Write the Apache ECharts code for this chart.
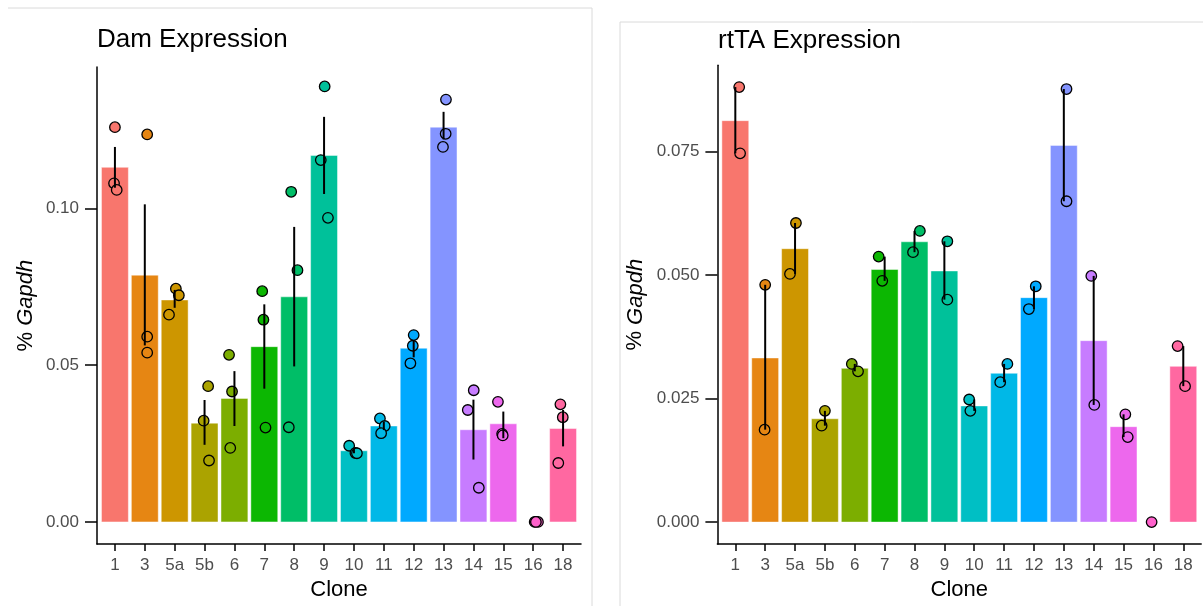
<!DOCTYPE html>
<html>
<head>
<meta charset="utf-8">
<script src="https://cdn.jsdelivr.net/npm/echarts@6/dist/echarts.min.js"></script>
<style>
html, body { margin: 0; padding: 0; background: #fff; }
#main { width: 1203px; height: 606px; }
</style>
</head>
<body>
<div id="main"></div>
<script>
var clones = ['1', '3', '5a', '5b', '6', '7', '8', '9', '10', '11', '12', '13', '14', '15', '16', '18'];
var palette = ['#F8766D', '#E68613', '#CD9600', '#ABA300', '#7CAE00', '#0CB702', '#00BE67', '#00C19A',
	'#00BFC4', '#00B8E7', '#00A9FF', '#8494FF', '#C77CFF', '#ED68ED', '#FF61CC', '#FF68A1'];

// Dam expression: bar means, error bar ends, replicate points + their horizontal jitter
var damMean = [0.1131, 0.0787, 0.0708, 0.0315, 0.0394, 0.0559, 0.0718, 0.1169, 0.0227, 0.0306, 0.0554, 0.1259, 0.0294, 0.0313, 0, 0.0298];
var damErrHi = [0.1196, 0.1013, 0.0740, 0.0389, 0.0481, 0.0694, 0.0941, 0.1292, 0.0235, 0.0320, 0.0578, 0.1308, 0.0390, 0.0352, 0, 0.0357];
var damErrLo = [0.1066, 0.0563, 0.0683, 0.0246, 0.0306, 0.0425, 0.0496, 0.1046, 0.0219, 0.0293, 0.0525, 0.1220, 0.0199, 0.0267, 0, 0.0241];
var damPoints = [
	[0.1259, 0.1080, 0.1059], [0.1236, 0.0591, 0.0540], [0.0744, 0.0723, 0.0661], [0.0433, 0.0323, 0.0196],
	[0.0533, 0.0416, 0.0236], [0.0736, 0.0645, 0.0301], [0.1053, 0.0803, 0.0302], [0.1389, 0.1154, 0.0970],
	[0.0243, 0.0220, 0.0219], [0.0330, 0.0306, 0.0283], [0.0596, 0.0562, 0.0506], [0.1347, 0.1238, 0.1196],
	[0.0420, 0.0357, 0.0109], [0.0383, 0.0281, 0.0276], [0, 0, 0], [0.0375, 0.0334, 0.0188]
];
var damJitter = [
	[0, -0.03, 0.06], [0.08, 0.08, 0.08], [0.04, 0.14, -0.19], [0.12, -0.03, 0.15],
	[-0.18, -0.08, -0.14], [-0.07, -0.03, 0.04], [-0.10, 0.11, -0.18], [0.02, -0.11, 0.13],
	[-0.16, 0.05, 0.10], [-0.13, 0.03, -0.09], [0, -0.03, -0.11], [0.08, 0.07, -0.02],
	[0.01, -0.19, 0.18], [-0.18, -0.04, -0.02], [0.05, 0.16, 0.09], [-0.09, -0.01, -0.16]
];
var damTicks = [0, 0.05, 0.10];

// rtTA expression
var rtMean = [0.0812, 0.0332, 0.0553, 0.0209, 0.0311, 0.0511, 0.0567, 0.0508, 0.0235, 0.0301, 0.0454, 0.0762, 0.0367, 0.0193, 0, 0.0315];
var rtErrHi = [0.0880, 0.0480, 0.0605, 0.0225, 0.0320, 0.0537, 0.0589, 0.0568, 0.0248, 0.0320, 0.0477, 0.0876, 0.0498, 0.0218, null, 0.0356];
var rtErrLo = [0.0746, 0.0187, 0.0502, 0.0195, 0.0305, 0.0488, 0.0546, 0.0450, 0.0225, 0.0283, 0.0431, 0.0649, 0.0237, 0.0172, null, 0.0275];
var rtPoints = [
	[0.0880, 0.0746], [0.0480, 0.0187], [0.0605, 0.0502], [0.0225, 0.0195],
	[0.0320, 0.0305], [0.0537, 0.0488], [0.0589, 0.0546], [0.0568, 0.0450],
	[0.0248, 0.0225], [0.0320, 0.0283], [0.0477, 0.0431], [0.0876, 0.0649],
	[0.0498, 0.0237], [0.0218, 0.0172], [0], [0.0356, 0.0275]
];
var rtJitter = [
	[0.13, 0.16], [0, -0.02], [0.03, -0.17], [0, -0.11],
	[-0.10, 0.11], [-0.20, -0.08], [0.18, -0.05], [0.10, 0.10],
	[-0.17, -0.13], [0.11, -0.13], [0.06, -0.17], [0.09, 0.09],
	[-0.08, 0.02], [0.06, 0.14], [-0.06], [-0.19, 0.06]
];
var rtTicks = [0, 0.025, 0.050, 0.075];

var font = '"Liberation Sans", Arial, Helvetica, sans-serif';
var cloneTicks = clones.map(function (c, i) { return i + 1; });

function barSeries(idx, means) {
	return {
		type: 'custom', xAxisIndex: idx, yAxisIndex: idx, z: 2, silent: true,
		data: means.map(function (v, i) { return [i + 1, v]; }),
		renderItem: function (params, api) {
			var x = api.value(0), v = api.value(1);
			var a = api.coord([x - 0.45, v]);
			var b = api.coord([x + 0.45, 0]);
			return {
				type: 'rect',
				shape: { x: a[0], y: a[1], width: b[0] - a[0], height: b[1] - a[1] },
				style: { fill: palette[params.dataIndex], stroke: 'rgba(255,255,255,0.45)', lineWidth: 1 }
			};
		}
	};
}

function pointSeries(idx, points, jitter) {
	var data = [];
	points.forEach(function (vals, i) {
		vals.forEach(function (v, k) {
			data.push({ value: [i + 1 + jitter[i][k], v], itemStyle: { color: palette[i] } });
		});
	});
	return {
		type: 'scatter', xAxisIndex: idx, yAxisIndex: idx, z: 3, silent: true,
		symbolSize: 10.5, data: data,
		itemStyle: { borderColor: '#000', borderWidth: 1.3, opacity: 1 }
	};
}

function errSeries(idx, lo, hi) {
	return {
		type: 'custom', xAxisIndex: idx, yAxisIndex: idx, z: 4, silent: true,
		data: lo.map(function (v, i) { return [i + 1, v, hi[i]]; }),
		renderItem: function (params, api) {
			var x = api.value(0);
			if (isNaN(api.value(1))) return null;
			var a = api.coord([x, api.value(1)]);
			var b = api.coord([x, api.value(2)]);
			return {
				type: 'line',
				shape: { x1: a[0], y1: a[1], x2: b[0], y2: b[1] },
				style: { stroke: '#000', lineWidth: 2 }
			};
		}
	};
}

function xAx(idx) {
	return {
		type: 'value', gridIndex: idx, min: 0.4, max: 16.6,
		splitLine: { show: false },
		axisLine: { onZero: false, lineStyle: { color: '#000', width: 1.5 } },
		axisTick: { customValues: cloneTicks, length: 7, lineStyle: { color: '#000', width: 1.5 } },
		axisLabel: {
			customValues: cloneTicks, margin: 13, color: '#4d4d4d', fontSize: 17, fontFamily: font,
			formatter: function (v) { return clones[Math.round(v) - 1]; }
		},
		name: 'Clone', nameLocation: 'middle', nameGap: 34,
		nameTextStyle: { color: '#000', fontSize: 22, fontFamily: font }
	};
}

function yAx(idx, min, max, ticks, dec, gap) {
	return {
		type: 'value', gridIndex: idx, min: min, max: max,
		splitLine: { show: false },
		axisLine: { onZero: false, lineStyle: { color: '#000', width: 1.5 } },
		axisTick: { customValues: ticks, length: 12, lineStyle: { color: '#000', width: 1.5 } },
		axisLabel: {
			customValues: ticks, margin: 18, color: '#4d4d4d', fontSize: 17, fontFamily: font,
			formatter: function (v) { return v.toFixed(dec); }
		},
		name: '{a|% }{b|Gapdh}', nameLocation: 'middle', nameGap: gap,
		nameTextStyle: {
			color: '#000', fontSize: 22, fontFamily: font,
			rich: {
				a: { fontSize: 22, fontFamily: font, color: '#000' },
				b: { fontSize: 22, fontFamily: font, color: '#000', fontStyle: 'italic' }
			}
		}
	};
}

var chart = echarts.init(document.getElementById('main'));
chart.setOption({
	animation: false,
	backgroundColor: '#fff',
	title: [
		{ text: 'Dam Expression', left: 97, top: 27, padding: 0,
			textStyle: { fontSize: 26, fontWeight: 'normal', color: '#000', fontFamily: font } },
		{ text: 'rtTA Expression', left: 718, top: 28, padding: 0,
			textStyle: { fontSize: 26, fontWeight: 'normal', color: '#000', fontFamily: font } }
	],
	graphic: [
		{ type: 'polyline', shape: { points: [[8, 8], [592, 8], [592, 606]] }, style: { stroke: '#dadada', lineWidth: 1, fill: null } },
		{ type: 'polyline', shape: { points: [[620, 606], [620, 22], [1203, 22]] }, style: { stroke: '#dadada', lineWidth: 1, fill: null } }
	],
	grid: [
		{ left: 97, top: 67, width: 484, height: 481.7 },
		{ left: 717.4, top: 65.3, width: 483.8, height: 483.4 }
	],
	xAxis: [xAx(0), xAx(1)],
	yAxis: [
		yAx(0, -0.00707, 0.1451, damTicks, 2, 60),
		yAx(1, -0.00445, 0.0924, rtTicks, 3, 71)
	],
	series: [
		barSeries(0, damMean), pointSeries(0, damPoints, damJitter), errSeries(0, damErrLo, damErrHi),
		barSeries(1, rtMean), pointSeries(1, rtPoints, rtJitter), errSeries(1, rtErrLo, rtErrHi)
	]
});
</script>
</body>
</html>
